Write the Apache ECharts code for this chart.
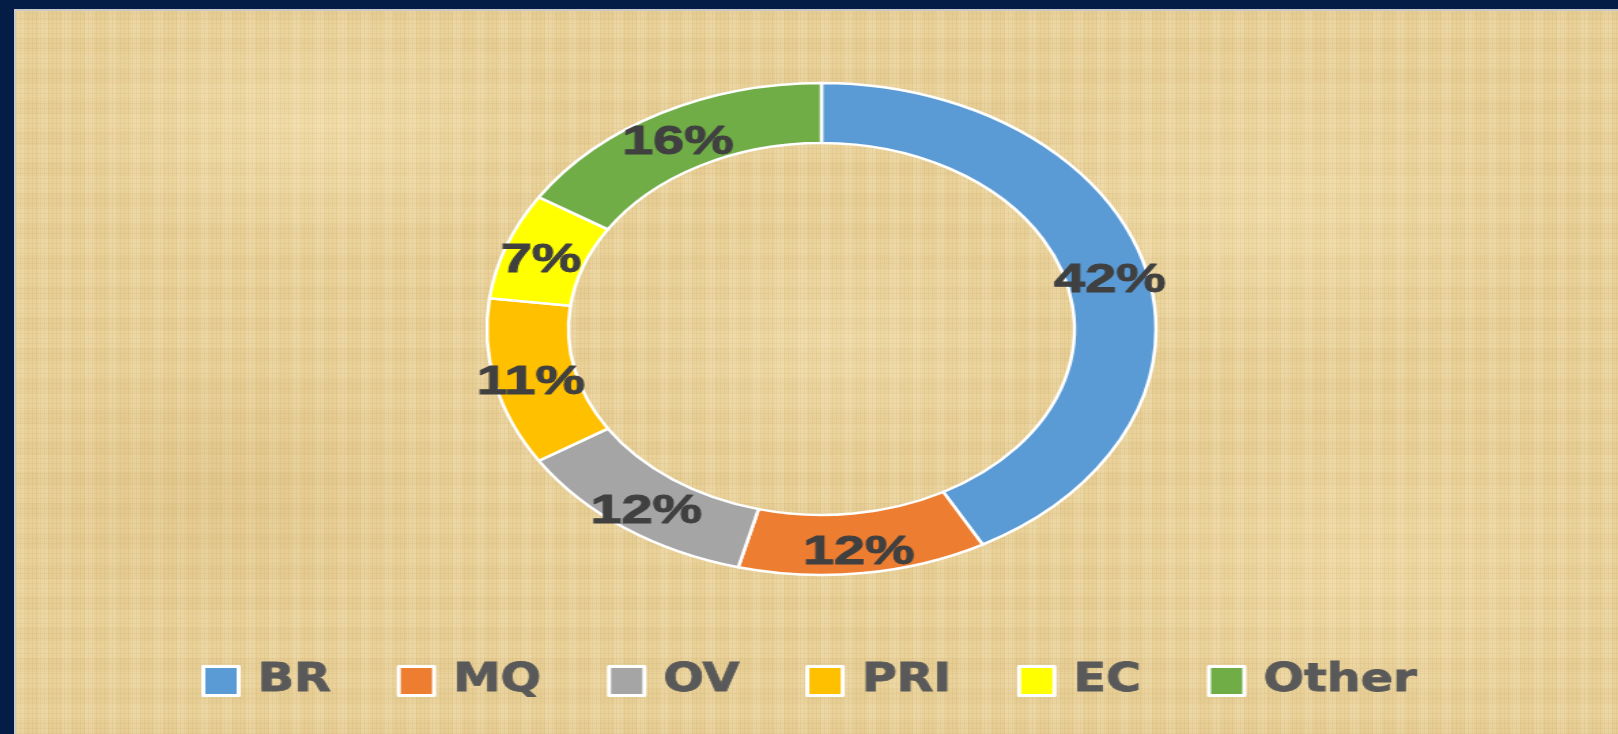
<!DOCTYPE html>
<html>
<head>
<meta charset="utf-8">
<script src="https://cdn.jsdelivr.net/npm/echarts@6/dist/echarts.min.js"></script>
<style>
  html, body { margin: 0; padding: 0; }
  body { width: 1618px; height: 734px; background: #041d47; overflow: hidden; position: relative; }
  #paper {
    position: absolute; left: 14px; top: 9px; right: 0; bottom: 0;
    border-left: 2px solid #c9c9c9; border-top: 2px solid #c9c9c9;
    background-color: #e9d199;
    background-image:
      repeating-linear-gradient(90deg, rgba(150,110,40,0.06) 0 1px, transparent 1px 4px),
      repeating-linear-gradient(0deg, rgba(150,110,40,0.06) 0 1px, transparent 1px 5px),
      radial-gradient(ellipse 260px 120px at 300px 120px, rgba(255,240,200,0.35), transparent),
      radial-gradient(ellipse 300px 160px at 1250px 200px, rgba(255,240,200,0.3), transparent),
      radial-gradient(ellipse 240px 140px at 200px 480px, rgba(200,160,90,0.18), transparent),
      radial-gradient(ellipse 280px 150px at 1350px 560px, rgba(255,235,190,0.3), transparent),
      radial-gradient(ellipse 220px 120px at 820px 330px, rgba(255,240,205,0.25), transparent),
      repeating-linear-gradient(90deg, rgba(255,245,220,0.14) 0 9px, transparent 9px 23px),
      repeating-linear-gradient(0deg, rgba(190,150,80,0.07) 0 14px, transparent 14px 31px);
  }
  #main {
    position: absolute; left: 0; top: 0;
    width: 1190px; height: 734px;
    transform: scaleX(1.36); transform-origin: 0 0;
  }
</style>
</head>
<body>
<div id="paper"></div>
<div id="main"></div>
<script>
// share of each group, in percent
const categories = ["BR", "MQ", "OV", "PRI", "EC", "Other"];
const values = [42, 12, 12, 11, 7, 16];
const colors = ["#5B9BD5", "#ED7D31", "#A5A5A5", "#FFC000", "#FFFF00", "#70AD47"];

var chartDom = document.getElementById("main");
var myChart = echarts.init(chartDom);

const option = {
  animation: false,
  color: colors,
  legend: {
    data: categories,
    left: 143,
    top: 656,
    itemWidth: 26,
    itemHeight: 29,
    itemGap: 48,
    icon: "rect",
    itemStyle: {
      borderColor: "#ffffff",
      borderWidth: 3,
    },
    textStyle: {
      fontFamily: "'DejaVu Sans Condensed', 'DejaVu Sans', sans-serif",
      fontWeight: "bold",
      fontSize: 39,
      color: "#595959",
      textBorderColor: "#595959",
      textBorderWidth: 0.8,
      padding: [0, 0, 0, 9],
    },
  },
  series: [
    {
      type: "pie",
      center: [604, 329],
      radius: [186, 246],
      startAngle: 90,
      clockwise: true,
      avoidLabelOverlap: false,
      itemStyle: {
        borderColor: "#ffffff",
        borderWidth: 2.5,
      },
      label: {
        show: true,
        position: "inside",
        formatter: "{c}%",
        offset: [0, 6],
        fontFamily: "'Liberation Sans', Arial, sans-serif",
        fontWeight: "bold",
        fontSize: 41,
        color: "#404040",
        textBorderColor: "#404040",
        textBorderWidth: 1,
      },
      labelLine: { show: false },
      emphasis: { disabled: true },
      data: categories.map((name, i) => {
        return { name: name, value: values[i] };
      }),
    },
  ],
};

myChart.setOption(option);
</script>
</body>
</html>
